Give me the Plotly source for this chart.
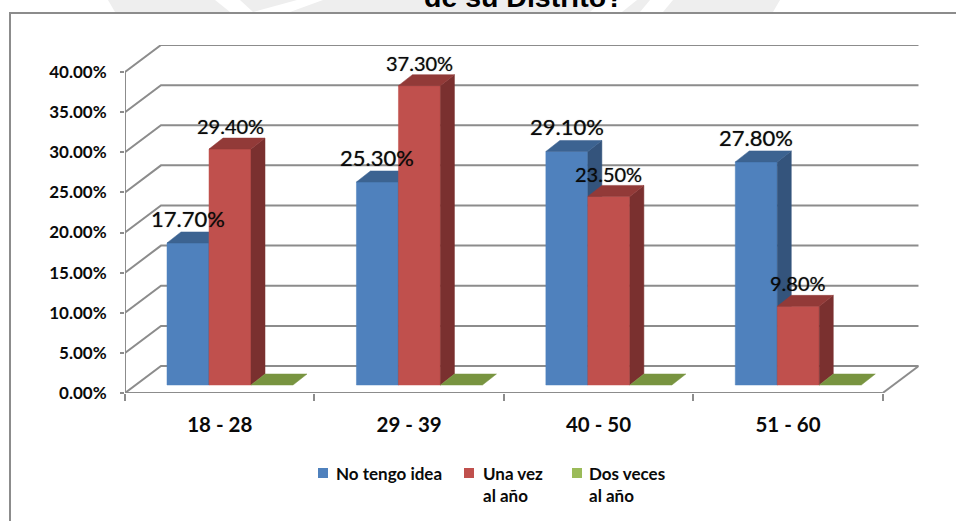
import plotly.graph_objects as go

W, H = 956, 521
categories = ["18 - 28", "29 - 39", "40 - 50", "51 - 60"]
series_names = ["No tengo idea", "Una vez<br>al año", "Dos veces<br>al año"]
no_tengo_idea = [17.7, 25.3, 29.1, 27.8]
una_vez = [29.4, 37.3, 23.5, 9.8]
dos_veces = [0.0, 0.0, 0.0, 0.0]
y_ticks = [0, 5, 10, 15, 20, 25, 30, 35, 40]

# style / geometry
X0, X4, Y0, Y40 = 125.0, 882.7, 393.0, 72.0
PX_CAT = (X4 - X0) / 4
PX_PCT = (Y0 - Y40) / 40
WALL_DX, WALL_DY = 36 / PX_CAT, 27 / PX_PCT
BASE_DX, BASE_DY = 10.3 / PX_CAT, 8 / PX_PCT
SIDE_DX, SIDE_DY = 14 / PX_CAT, 11 / PX_PCT
BAR_W = 42 / PX_CAT
FRONT = ["#4f81bd", "#c0504d", "#9bbb59"]
SIDE = ["#34547c", "#7a302f", "#66803a"]
TOP = ["#3c6391", "#923a38", "#789440"]
GRID = "#8c8c8c"
TXT = "#0a0a0a"
FONT = "Lato"
SOFT = "0 0 1px rgba(0,0,0,0.55)"
WATERMARK = [
    [(108, 0), (215, 0), (230, 12), (115, 12)],
    [(240, 0), (297, 0), (253, 12)],
    [(323, 0), (603, 0), (590, 12), (290, 12)],
    [(637, 0), (650, 0), (640, 12), (622, 12)],
    [(673, 0), (780, 0), (773, 12), (663, 12)],
]
LEGEND_POS = [(323, 334), (469, 481), (577, 587)]
LEGEND_Y = 473

x_max = 4 + WALL_DX
y_max = 40 + WALL_DY

fig = go.Figure()


def poly(xs, ys, color):
    fig.add_trace(go.Scatter(x=xs + xs[:1], y=ys + ys[:1], mode="lines", fill="toself",
                             fillcolor=color, line=dict(color=color, width=0.5),
                             hoverinfo="skip", showlegend=False))


# wall and floor lines
for v in y_ticks:
    fig.add_trace(go.Scatter(x=[0, WALL_DX, x_max], y=[v, v + WALL_DY, v + WALL_DY], mode="lines",
                             line=dict(color=GRID, width=2), hoverinfo="skip", showlegend=False))
fig.add_trace(go.Scatter(x=[4, x_max], y=[0, WALL_DY], mode="lines",
                         line=dict(color=GRID, width=2), hoverinfo="skip", showlegend=False))

# bars
values = [no_tengo_idea, una_vez, dos_veces]
for c in range(len(categories)):
    for s, vals in enumerate(values):
        v = vals[c]
        left = c + BASE_DX + (1 - 3 * BAR_W) / 2 + s * BAR_W
        right = left + BAR_W
        b = BASE_DY
        t = v + BASE_DY
        if v > 0:
            poly([left, right, right, left], [b, b, t, t], FRONT[s])
            poly([right, right + SIDE_DX, right + SIDE_DX, right], [b, b + SIDE_DY, t + SIDE_DY, t], SIDE[s])
        poly([left, right, right + SIDE_DX, left + SIDE_DX], [t, t, t + SIDE_DY, t + SIDE_DY], TOP[s])

# data labels
label_style = {
    0: [(9, 22), (9, 22), (9, 22), (9, 22)],
    1: [(9, 20), (9, 20), (8, 20), (9, 20)],
}
for s in (0, 1):
    for c, v in enumerate(values[s]):
        left = c + BASE_DX + (1 - 3 * BAR_W) / 2 + s * BAR_W
        dy, size = label_style[s][c]
        fig.add_annotation(x=left + BAR_W / 2, y=v + BASE_DY, xref="x", yref="y",
                           text=f"{v:.2f}%", showarrow=False, yanchor="bottom", yshift=dy,
                           font=dict(family=FONT, size=size, color=TXT, shadow=SOFT))

# title, cut off by the page top as in the original
fig.add_annotation(x=524 / W, y=1 + 3 / H, xref="paper", yref="paper", yanchor="middle",
                   text="<b>de su Distrito?</b>", showarrow=False,
                   font=dict(family="Liberation Sans", size=28.5, color="#000000"))

shapes = []
for pts in WATERMARK:
    path = "M " + " L ".join(f"{x / W} {1 - y / H}" for x, y in pts) + " Z"
    shapes.append(dict(type="path", xref="paper", yref="paper", layer="below", path=path,
                       fillcolor="#eeeeee", line=dict(width=0)))
shapes += [
    dict(type="line", xref="x", yref="y", x0=0, x1=0, y0=0, y1=40, line=dict(color=GRID, width=2)),
    dict(type="line", xref="x", yref="y", x0=0, x1=4, y0=0, y1=0, line=dict(color=GRID, width=2)),
    dict(type="path", xref="paper", yref="paper",
         path=f"M {10/W} 0 L {10/W} {1-13/H} L 1 {1-13/H}", line=dict(color=GRID, width=2)),
]

# legend, with the symbol on the first line of each entry
for s, name in enumerate(series_names):
    xs, xt = LEGEND_POS[s]
    shapes.append(dict(type="rect", xref="paper", yref="paper",
                       x0=(xs - 5) / W, x1=(xs + 5) / W, y0=1 - (LEGEND_Y + 5) / H, y1=1 - (LEGEND_Y - 5) / H,
                       fillcolor=FRONT[s], line=dict(width=0)))
    fig.add_annotation(x=xt / W, y=1 - (LEGEND_Y - 12) / H, xref="paper", yref="paper",
                       xanchor="left", yanchor="top", align="left", text=name, showarrow=False,
                       font=dict(family=FONT, size=17, color=TXT, weight=700))

fig.update_layout(
    width=W, height=H, margin=dict(l=0, r=0, t=0, b=0), paper_bgcolor="white", plot_bgcolor="white",
    shapes=shapes, showlegend=False,
    xaxis=dict(domain=[X0 / W, (X4 + 36) / W], range=[0, x_max], showgrid=False, zeroline=False,
               tickmode="array", tickvals=[0, 1, 2, 3, 4], ticktext=[""] * 5, ticks="outside",
               ticklen=7, tickwidth=2, tickcolor=GRID, showline=False, anchor="y", automargin=False),
    xaxis2=dict(domain=[X0 / W, (X4 + 36) / W], range=[0, x_max], overlaying="x", side="bottom", anchor="y",
                showgrid=False, zeroline=False, tickmode="array", automargin=False,
                tickvals=[c + 0.5 for c in range(4)], ticktext=categories,
                ticks="outside", ticklen=13, tickcolor="rgba(0,0,0,0)",
                tickfont=dict(family=FONT, size=20.5, color=TXT, weight=700)),
    yaxis=dict(domain=[1 - Y0 / H, 1 - (Y40 - 27) / H], range=[0, y_max], automargin=False,
               showgrid=False, zeroline=False, tickmode="array", tickvals=y_ticks,
               ticktext=[f"{v:.2f}%" for v in y_ticks], ticks="outside", ticklen=4, tickwidth=2,
               ticklabelstandoff=10,
               tickcolor=GRID, tickfont=dict(family=FONT, size=17, color=TXT, weight=700)),
)
# an invisible trace keeps the second x axis active for its tick labels
fig.add_trace(go.Scatter(x=[0.5], y=[0], xaxis="x2", mode="markers", marker=dict(opacity=0),
                         hoverinfo="skip", showlegend=False))

fig.write_html("out.html", post_script="document.body.style.margin='0';document.body.style.overflow='hidden';",
               config=dict(displayModeBar=False))
